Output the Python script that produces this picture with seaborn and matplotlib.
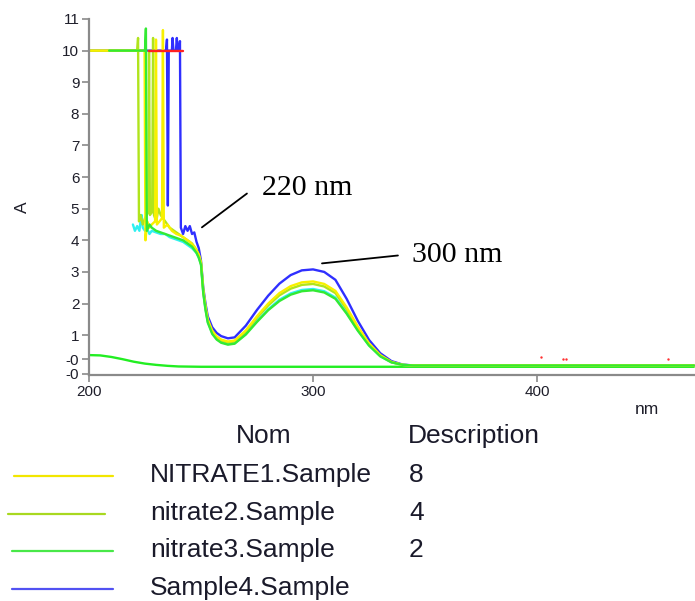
import matplotlib
matplotlib.use("Agg")
import matplotlib.pyplot as plt
from matplotlib.lines import Line2D
import pandas as pd
import seaborn as sns

# ---- spectra (wavelength in nm, absorbance A) ----
# shared wavelengths for the smooth band region
BAND_NM = [250, 251, 252, 253, 255, 257, 259, 262, 265, 270, 275, 280, 285, 290,
           295, 300, 305, 310, 315, 320, 325, 330, 335, 340, 345, 350, 360, 380,
           400, 430, 470]

SAMPLE4_EDGE_NM = [200, 234.4, 234.8, 235.2, 235.6, 237.0, 237.3, 237.7, 238.8, 239.2,
                   239.6, 240.3, 240.6, 241.0, 242.0, 243.0, 244.0, 245.0, 246.0, 247.0,
                   248.0, 249.0]
SAMPLE4_EDGE_A = [10, 10, 10.35, 5.1, 10, 10, 10.4, 10, 10, 10.4,
                  10, 10, 10.3, 4.4, 4.2, 4.45, 4.3, 4.45, 4.2, 4.25,
                  3.95, 3.75]
SAMPLE4_BAND_A = [3.35, 2.5, 2.0, 1.6, 1.25, 1.07, 0.97, 0.90, 0.93, 1.30, 1.80, 2.25,
                  2.63, 2.90, 3.05, 3.08, 3.00, 2.75, 2.15, 1.45, 0.85, 0.43, 0.18,
                  0.07, 0.04, 0.04, 0.04, 0.04, 0.04, 0.04, 0.04]

NITRATE1_EDGE_NM = [200, 224.8, 225.2, 226.0, 227.0, 228.0, 229.5, 229.9, 230.3, 231.5,
                    232.6, 233.0, 233.4, 235.0, 237.0, 239.0, 241.0, 243.0, 245.0, 247.0,
                    249.0]
NITRATE1_EDGE_A = [10, 10, 4.0, 4.6, 4.4, 4.5, 4.6, 10.35, 4.5, 4.6,
                   4.7, 10.65, 4.4, 4.5, 4.3, 4.2, 4.15, 4.05, 3.95, 3.8,
                   3.55]
NITRATE1_BAND_A = [3.3, 2.42, 1.9, 1.5, 1.14, 0.96, 0.86, 0.80, 0.83, 1.15, 1.60, 2.00,
                   2.33, 2.55, 2.67, 2.70, 2.62, 2.40, 1.88, 1.27, 0.74, 0.37, 0.15,
                   0.06, 0.04, 0.04, 0.04, 0.04, 0.04, 0.04, 0.04]

NITRATE2_EDGE_NM = [200, 221.5, 221.9, 222.3, 223.0, 224.0, 225.0, 226.5, 226.8, 227.2,
                    228.2, 228.6, 229.0, 230.0, 231.0, 232.0, 233.0, 234.0, 236.0, 238.0,
                    240.0, 242.0, 244.0, 246.0, 248.0, 249.0]
NITRATE2_EDGE_A = [10, 10, 10.4, 4.6, 4.8, 4.5, 4.7, 4.9, 10.0, 4.8,
                   4.9, 10.4, 4.8, 4.6, 5.0, 4.8, 4.7, 4.6, 4.4, 4.3,
                   4.2, 4.1, 4.0, 3.9, 3.7, 3.55]
NITRATE2_BAND_A = [3.28, 2.4, 1.87, 1.47, 1.11, 0.93, 0.83, 0.77, 0.80, 1.11, 1.55, 1.94,
                   2.26, 2.47, 2.59, 2.62, 2.54, 2.33, 1.82, 1.23, 0.72, 0.36, 0.15,
                   0.06, 0.04, 0.04, 0.04, 0.04, 0.04, 0.04, 0.04]

NITRATE3_EDGE_NM = [209, 225.0, 225.4, 225.8, 227.0, 228.0, 230.0, 232.0, 234.0, 236.0,
                    238.0, 240.0, 242.0, 244.0, 246.0, 248.0, 249.0]
NITRATE3_EDGE_A = [10, 10, 10.7, 4.3, 4.5, 4.4, 4.3, 4.25, 4.2, 4.15,
                   4.1, 4.05, 4.0, 3.9, 3.8, 3.6, 3.45]
NITRATE3_BAND_A = [3.22, 2.33, 1.8, 1.4, 1.04, 0.86, 0.76, 0.70, 0.73, 1.02, 1.42, 1.79,
                   2.08, 2.28, 2.39, 2.42, 2.35, 2.15, 1.68, 1.14, 0.67, 0.33, 0.14,
                   0.06, 0.04, 0.04, 0.04, 0.04, 0.04, 0.04, 0.04]

REF_EDGE_NM = [219.6, 220.5, 221.5, 222.5, 223.0, 223.5, 224.0, 225.0, 226.0, 227.0,
               228.0, 230.0, 232.0, 234.0, 236.0, 238.0, 240.0, 242.0, 244.0, 246.0,
               248.0, 249.0]
REF_EDGE_A = [4.5, 4.3, 4.45, 4.3, 4.6, 4.8, 4.4, 4.3, 4.35, 4.2,
              4.3, 4.25, 4.2, 4.2, 4.1, 4.05, 4.0, 3.95, 3.85, 3.75,
              3.6, 3.45]
REF_BAND_A = [3.25, 2.36, 1.83, 1.43, 1.07, 0.88, 0.78, 0.72, 0.75, 1.04, 1.45, 1.82,
              2.12, 2.32, 2.43, 2.46, 2.39, 2.19, 1.71, 1.16, 0.68, 0.34, 0.14,
              0.06, 0.04, 0.04, 0.04, 0.04, 0.04, 0.04, 0.04]

BLANK_NM = [200, 205, 210, 215, 220, 225, 230, 235, 240, 250, 300, 470]
BLANK_A = [0.37, 0.36, 0.31, 0.24, 0.16, 0.10, 0.06, 0.03, 0.01, 0.0, 0.0, 0.0]

OVER_NM = [227, 242]
OVER_A = [10, 10]

SPECKLE_NM = [401.8, 411.6, 412.8, 458.5]
SPECKLE_A = [0.30, 0.24, 0.24, 0.24]

# legend table
LEGEND_NAMES = ["NITRATE1.Sample", "nitrate2.Sample", "nitrate3.Sample", "Sample4.Sample"]
LEGEND_DESC = ["8", "4", "2", ""]

Y_TICKS = [-0.22, 0.24, 1, 2, 3, 4, 5, 6, 7, 8, 9, 10, 11]
Y_TICK_LABELS = ["-0", "-0", "1", "2", "3", "4", "5", "6", "7", "8", "9", "10", "11"]
X_TICKS = [200, 300, 400]

COLORS = {
    "blank": "#22ee22",
    "Sample4.Sample": "#2f2fff",
    "ref": "#2ff0f0",
    "nitrate2.Sample": "#b0e41c",
    "NITRATE1.Sample": "#f8f000",
    "nitrate3.Sample": "#33ea33",
    "over": "#ff2020",
}
LEGEND_COLORS = ["#f2e600", "#a8d820", "#48e848", "#5252f2"]

series = [
    ("blank", BLANK_NM, BLANK_A),
    ("Sample4.Sample", SAMPLE4_EDGE_NM + BAND_NM, SAMPLE4_EDGE_A + SAMPLE4_BAND_A),
    ("ref", REF_EDGE_NM + BAND_NM, REF_EDGE_A + REF_BAND_A),
    ("nitrate2.Sample", NITRATE2_EDGE_NM + BAND_NM, NITRATE2_EDGE_A + NITRATE2_BAND_A),
    ("NITRATE1.Sample", NITRATE1_EDGE_NM + BAND_NM, NITRATE1_EDGE_A + NITRATE1_BAND_A),
    ("nitrate3.Sample", NITRATE3_EDGE_NM + BAND_NM, NITRATE3_EDGE_A + NITRATE3_BAND_A),
    ("over", OVER_NM, OVER_A),
]
frames = []
for name, nm, a in series:
    frames.append(pd.DataFrame({"nm": nm, "A": a, "series": name}))
df = pd.concat(frames, ignore_index=True)
hue_order = [s[0] for s in series]

sns.set_style("white")
plt.rcParams["font.family"] = ["Liberation Sans", "DejaVu Sans"]

W, H = 695, 601
fig = plt.figure(figsize=(W / 100, H / 100), dpi=100)
ax = fig.add_axes([89 / W, (H - 375) / H, (W - 89) / W, (375 - 19) / H])

sns.lineplot(data=df, x="nm", y="A", hue="series", hue_order=hue_order,
             palette=COLORS, estimator=None, sort=False, units="series",
             linewidth=1.7, legend=False, ax=ax)
sns.scatterplot(x=SPECKLE_NM, y=SPECKLE_A, color="#ff3030", s=3, linewidth=0, ax=ax)

ax.set_xlim(200, 470.5)
ax.set_ylim(-0.26, 11)
ax.set_xticks(X_TICKS)
ax.set_xticklabels([str(t) for t in X_TICKS])
ax.set_yticks(Y_TICKS)
ax.set_yticklabels(Y_TICK_LABELS)
ax.set_xlabel("")
ax.set_ylabel("")
for side in ("top", "right"):
    ax.spines[side].set_visible(False)
for side in ("left", "bottom"):
    ax.spines[side].set_color("#8a8a8a")
    ax.spines[side].set_linewidth(1.6)
ax.tick_params(axis="both", which="major", length=5, width=1.2, color="#8a8a8a",
               labelsize=11, labelcolor="#1e1e2a", pad=2, direction="out",
               left=True, bottom=True)

# axis titles
fig.text(22 / W, 1 - 207 / H, "A", rotation=90, ha="center", va="center",
         fontsize=12.5, color="#1e1e2a")
fig.text(647 / W, 1 - 410 / H, "nm", ha="center", va="center",
         fontsize=12.5, color="#1e1e2a")

# band annotations
serif = ["Liberation Serif", "DejaVu Serif"]
ax.plot([250.4, 270.5], [4.41, 5.48], color="black", linewidth=1.3)
ax.text(277.0, 5.64, "220 nm", fontsize=21.5, family=serif,
        ha="left", va="center", color="black")
ax.plot([304.0, 337.9], [3.27, 3.52], color="black", linewidth=1.3)
ax.text(344.2, 3.52, "300 nm", fontsize=21.5, family=serif,
        ha="left", va="center", color="black")

# legend table under the plot
def fx(x):
    return x / W

def fy(y):
    return 1 - y / H

TABLE_FS = 19
fig.text(fx(264), fy(436), "Nom", ha="center", va="center", fontsize=TABLE_FS, color="#1a1a2a")
fig.text(fx(408), fy(436), "Description", ha="left", va="center", fontsize=TABLE_FS,
         color="#1a1a2a")
row_y = [475, 513, 550, 588]
line_x = [(14, 113), (8, 105), (12, 113), (12, 113)]
for name, desc, col, y, (x0, x1) in zip(LEGEND_NAMES, LEGEND_DESC, LEGEND_COLORS, row_y, line_x):
    fig.add_artist(Line2D([fx(x0), fx(x1)], [fy(y + 1), fy(y + 1)], color=col,
                          linewidth=1.6, transform=fig.transFigure))
    fig.text(fx(150), fy(y), name, ha="left", va="center", fontsize=TABLE_FS, color="#1a1a2a")
    if desc:
        fig.text(fx(409), fy(y), desc, ha="left", va="center", fontsize=TABLE_FS,
                 color="#1a1a2a")

fig.savefig("out.png", dpi=100, facecolor="white")
